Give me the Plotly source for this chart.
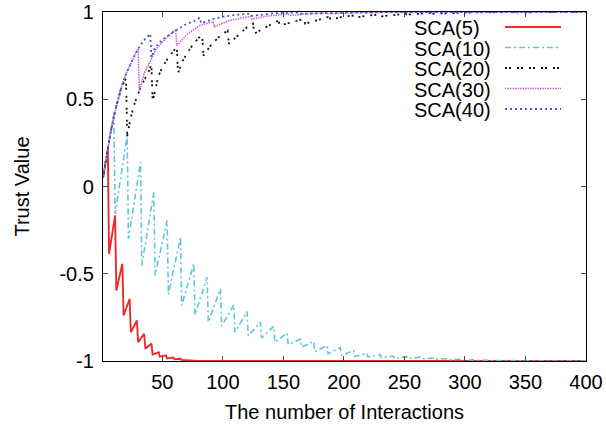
import plotly.graph_objects as go

# ---- data (vertex points of each saw-tooth curve) ----
series_names = ["SCA(5)", "SCA(10)", "SCA(20)", "SCA(30)", "SCA(40)"]

sca5_x = [1, 3, 5, 6, 11, 12, 17, 18, 23, 24, 29, 30, 35, 36, 41, 42, 47, 48, 53, 54,
          59, 60, 65, 66, 72, 80, 100, 400]
sca5_y = [0.05, 0.14, 0.21, -0.386, -0.166, -0.596, -0.443, -0.739, -0.644, -0.835,
          -0.768, -0.892, -0.844, -0.93, -0.90, -0.963, -0.95, -0.975, -0.968, -0.985,
          -0.98, -0.99, -0.987, -0.994, -0.997, -0.999, -1.0, -1.0]

sca10_x = [1, 4, 7, 10, 11, 21, 22, 32, 33, 43, 44, 54, 55, 65, 66, 76, 77, 87, 88,
           98, 99, 109, 110, 120, 121, 131, 132, 142, 143, 153, 154, 164, 165, 175, 176,
           186, 187, 197, 198, 208, 209, 219, 220, 230, 231, 241, 242, 252, 253, 263, 264,
           274, 275, 285, 286, 296, 297, 307, 308, 318, 319, 329, 330, 340, 341, 351, 352, 400]
sca10_y = [0.05, 0.187, 0.30, 0.39, -0.157, 0.292, -0.30, 0.139, -0.453, -0.033, -0.51,
           -0.195, -0.619, -0.29, -0.682, -0.443, -0.735, -0.52, -0.777, -0.586, -0.80,
           -0.68, -0.835, -0.717, -0.855, -0.777, -0.868, -0.802, -0.892, -0.84, -0.905,
           -0.875, -0.92, -0.888, -0.946, -0.911, -0.959, -0.924, -0.968, -0.94, -0.974,
           -0.955, -0.978, -0.963, -0.982, -0.972, -0.985, -0.975, -0.987, -0.978, -0.988,
           -0.983, -0.991, -0.987, -0.993, -0.99, -0.995, -0.993, -0.996, -0.995, -0.997,
           -0.997, -0.998, -0.998, -0.999, -0.999, -1.0, -1.0]

sca20_x = [1, 4, 7, 10, 13, 16, 20, 21, 24, 27, 30, 34, 38, 41, 42, 47, 50, 55, 58, 62,
           63, 67, 71, 75, 80, 83, 84, 91, 98, 104, 105, 112, 120, 125, 126, 133, 141, 146,
           147, 157, 167, 168, 178, 188, 189, 199, 209, 210, 220, 230, 231, 251, 252, 272,
           273, 293, 294, 314, 315, 335, 336, 400]
sca20_y = [0.05, 0.187, 0.30, 0.405, 0.49, 0.565, 0.62, 0.29, 0.397, 0.474, 0.531, 0.598,
           0.645, 0.70, 0.49, 0.636, 0.684, 0.74, 0.765, 0.80, 0.65, 0.722, 0.77, 0.81,
           0.852, 0.865, 0.75, 0.818, 0.865, 0.894, 0.818, 0.865, 0.913, 0.933, 0.875, 0.904,
           0.933, 0.951, 0.923, 0.942, 0.96, 0.933, 0.955, 0.974, 0.955, 0.974, 0.98, 0.968,
           0.98, 0.985, 0.975, 0.99, 0.985, 0.995, 0.99, 0.997, 0.995, 0.998, 0.997, 0.999,
           0.998, 1.0]

sca30_x = [1, 4, 7, 10, 13, 16, 20, 24, 28, 30, 31, 35, 40, 45, 54, 61, 62, 71, 81, 92,
           93, 105, 115, 123, 124, 135, 145, 154, 155, 170, 185, 186, 216, 217, 247, 248, 400]
sca30_y = [0.05, 0.187, 0.30, 0.405, 0.49, 0.565, 0.645, 0.71, 0.765, 0.79, 0.55, 0.646,
           0.722, 0.789, 0.856, 0.90, 0.808, 0.875, 0.923, 0.945, 0.915, 0.951, 0.965, 0.975,
           0.96, 0.975, 0.983, 0.988, 0.98, 0.99, 0.994, 0.99, 0.997, 0.995, 0.999, 0.998, 1.0]

sca40_x = [1, 4, 7, 10, 13, 16, 20, 24, 28, 32, 36, 40, 41, 44, 51, 57, 61, 68, 76, 81,
           82, 92, 102, 112, 122, 123, 143, 163, 164, 204, 205, 246, 400]
sca40_y = [0.05, 0.187, 0.30, 0.405, 0.49, 0.565, 0.645, 0.71, 0.765, 0.81, 0.847, 0.875,
           0.74, 0.798, 0.846, 0.875, 0.894, 0.925, 0.947, 0.967, 0.936, 0.96, 0.975, 0.985,
           0.99, 0.978, 0.993, 0.997, 0.99, 0.999, 0.997, 1.0, 1.0]

x_ticks = [50, 100, 150, 200, 250, 300, 350, 400]
y_ticks = [-1, -0.5, 0, 0.5, 1]
y_tick_labels = ["-1", "-0.5", "0", "0.5", "1"]

# ---- styles ----
colors = ["#ee2b2b", "#5fc7d9", "#111111", "#cc62cc", "#3a5ccc"]
dashes = ["solid", "6px,3px,2px,3px", "2px,2px,2px,6px", "1.5px,1px", "2px,3px"]
widths = [1.9, 1.6, 1.8, 1.6, 1.8]

xs = [sca5_x, sca10_x, sca20_x, sca30_x, sca40_x]
ys = [sca5_y, sca10_y, sca20_y, sca30_y, sca40_y]

FONT = "Liberation Sans, Arial, Helvetica, sans-serif"

fig = go.Figure()
for name, x, y, c, d, w in zip(series_names, xs, ys, colors, dashes, widths):
    fig.add_trace(go.Scatter(x=x, y=y, mode="lines", name=name,
                             line=dict(color=c, dash=d, width=w), showlegend=False))

# gnuplot-like key: text on the left, line sample on the right
W, H = 606, 428
L, R, T, B = 103, 20, 12, 67
pw, ph = W - L - R, H - T - B
def px_x(p):
    return (p - L) / pw
def px_y(p):
    return (H - B - p) / ph

key_rows = [28, 48.5, 69, 89.5, 110]
for name, c, d, w, yy in zip(series_names, colors, dashes, widths, key_rows):
    fig.add_annotation(x=px_x(412), y=px_y(yy), xref="paper", yref="paper",
                       text=name, showarrow=False, xanchor="left", yanchor="middle",
                       font=dict(family=FONT, size=20, color="black"))
    fig.add_shape(type="line", xref="paper", yref="paper",
                  x0=px_x(505), x1=px_x(561), y0=px_y(yy - 1), y1=px_y(yy - 1),
                  line=dict(color=c, dash=d, width=w))

fig.update_layout(
    width=W, height=H,
    margin=dict(l=L, r=R, t=T, b=B, autoexpand=False),
    paper_bgcolor="white", plot_bgcolor="white",
    font=dict(family=FONT, size=20, color="black"),
    showlegend=False,
)
fig.update_xaxes(range=[1, 400], tickvals=x_ticks, ticks="inside", ticklen=5,
                 tickcolor="#444", showline=True, linecolor="black", linewidth=1.2,
                 mirror="ticks", showgrid=False, zeroline=False, automargin=False,
                 ticklabelstandoff=3,
                 title=dict(text="The number of Interactions", standoff=12,
                            font=dict(size=20)),
                 tickfont=dict(size=20))
fig.update_yaxes(range=[-1, 1], tickvals=y_ticks, ticktext=y_tick_labels,
                 ticks="inside", ticklen=5, tickcolor="#444", showline=True,
                 linecolor="black", linewidth=1.2, mirror="ticks", showgrid=False,
                 zeroline=False, automargin=False, ticklabelstandoff=4,
                 title=dict(text="Trust Value", standoff=24, font=dict(size=20)),
                 tickfont=dict(size=20))

fig.write_html("out.html", config={"displayModeBar": False},
               post_script="document.body.style.margin='0';document.body.style.overflow='hidden';")
